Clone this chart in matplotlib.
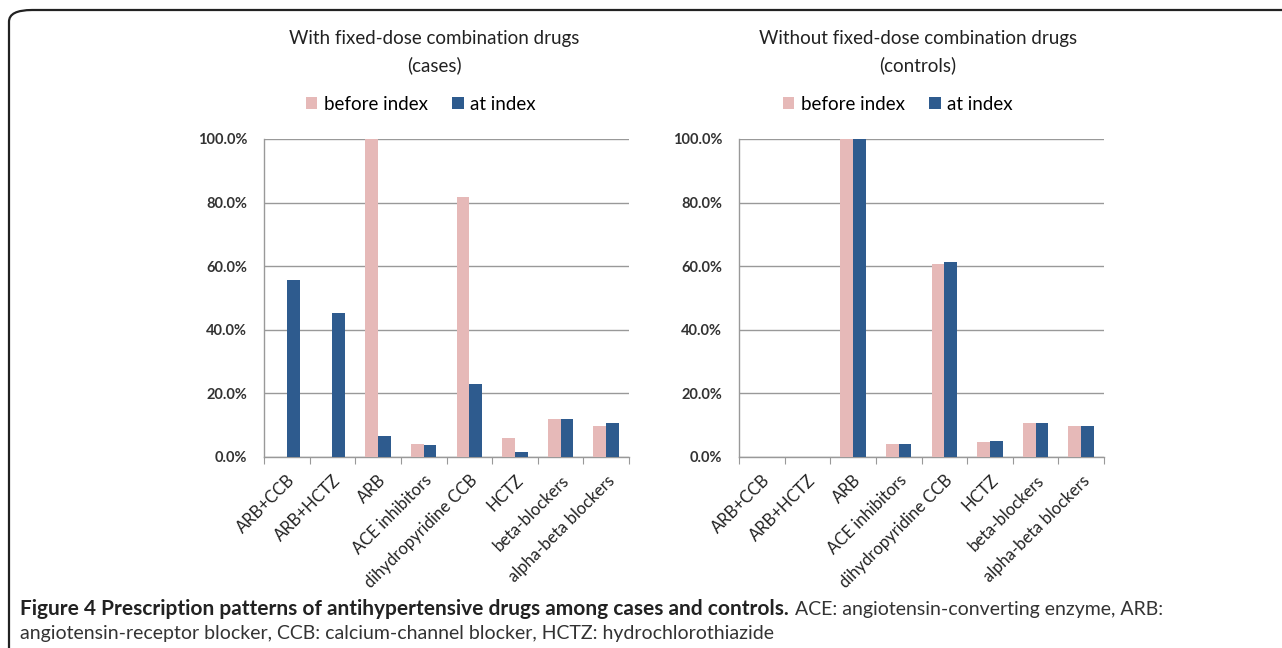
import numpy as np
import matplotlib
matplotlib.use('Agg')
import matplotlib.pyplot as plt
from matplotlib.patches import FancyBboxPatch

DRUGS = ['ARB+CCB', 'ARB+HCTZ', 'ARB', 'ACE inhibitors', 'dihydropyridine CCB',
         'HCTZ', 'beta-blockers', 'alpha-beta blockers']
CASES_BEFORE = [0.0, 0.0, 100.0, 4.0, 81.8, 6.0, 12.1, 9.8]
CASES_AT = [55.6, 45.3, 6.7, 3.7, 23.0, 1.7, 11.8, 10.8]
CTRL_BEFORE = [0.0, 0.0, 100.0, 4.2, 60.7, 4.7, 10.8, 9.8]
CTRL_AT = [0.0, 0.0, 100.0, 4.2, 61.2, 5.0, 10.8, 9.8]
SERIES = ['before index', 'at index']
TITLES = ['With fixed-dose combination drugs\n(cases)', 'Without fixed-dose combination drugs\n(controls)']
COL = {'before index': '#E6B9B8', 'at index': '#2E5B8E'}
FONT = ['Lato', 'DejaVu Sans']
plt.rcParams['font.family'] = FONT

W, H = 1282, 648
fig = plt.figure(figsize=(W / 100, H / 100), dpi=100)


def px(x0, y0, x1, y1):
    return [x0 / W, 1 - y1 / H, (x1 - x0) / W, (y1 - y0) / H]


def panel(ax, before, at, title, tx, lx):
    x = np.arange(len(DRUGS))
    bw = 0.28
    ax.bar(x - bw / 2, before, bw, color=COL['before index'], label='before index', zorder=3)
    ax.bar(x + bw / 2, at, bw, color=COL['at index'], label='at index', zorder=3)
    ax.set_xlim(-0.5, len(DRUGS) - 0.5)
    ax.set_ylim(0, 100)
    ax.set_yticks(np.arange(0, 101, 20))
    ax.set_yticklabels([f'{v:.1f}%' for v in np.arange(0, 101, 20)], fontsize=10.5, fontweight='bold', color='#333333')
    ax.yaxis.grid(True, color='#999999', lw=1.0, zorder=0)
    ax.set_axisbelow(True)
    for s in ('top', 'right'):
        ax.spines[s].set_visible(False)
    for s in ('left', 'bottom'):
        ax.spines[s].set_color('#999999')
        ax.spines[s].set_linewidth(1.0)
    ax.tick_params(axis='y', length=0, pad=12)
    ax.set_xticks(np.arange(-0.5, len(DRUGS), 1))
    ax.set_xticklabels([])
    ax.tick_params(axis='x', which='major', length=5, color='#999999', direction='out')
    ax.set_xticks(x, minor=True)
    ax.set_xticklabels(DRUGS, minor=True, rotation=45, ha='right', rotation_mode='anchor',
                       fontsize=12, color='#222222')
    ax.tick_params(axis='x', which='minor', length=0, pad=11)
    fig.text(tx / W, 1 - 52 / H, title, ha='center', va='center', fontsize=13.5,
             color='#222222', linespacing=1.6)
    ax.legend(loc='center', bbox_to_anchor=(lx / W, 1 - 104 / H), bbox_transform=fig.transFigure,
              ncol=2, frameon=False, fontsize=13.5, handlelength=0.6, handleheight=0.6,
              handletextpad=0.35, columnspacing=1.3)


ax1 = fig.add_axes(px(264, 139, 629, 457))
panel(ax1, CASES_BEFORE, CASES_AT, TITLES[0], 434, 421)
ax2 = fig.add_axes(px(739, 139, 1104, 457))
panel(ax2, CTRL_BEFORE, CTRL_AT, TITLES[1], 918, 898)

# outer frame
frame = FancyBboxPatch((9 / W, -0.05), 1.2, (H - 10) / H + 0.05,
                       boxstyle='round,pad=0,rounding_size=0.018', transform=fig.transFigure,
                       fill=False, edgecolor='#222222', lw=1.6, clip_on=False)
fig.add_artist(frame)

# caption
t1 = fig.text(20 / W, 1 - 609 / H, 'Figure 4 Prescription patterns of antihypertensive drugs among cases and controls.',
              fontsize=15, fontweight='bold', va='center', ha='left', color='#222222')
fig.canvas.draw()
bb = t1.get_window_extent()
fig.text((bb.x1 + 6) / W, 1 - 609 / H, 'ACE: angiotensin-converting enzyme, ARB:',
         fontsize=14, va='center', ha='left', color='#333333')
fig.text(20 / W, 1 - 633 / H, 'angiotensin-receptor blocker, CCB: calcium-channel blocker, HCTZ: hydrochlorothiazide',
         fontsize=14, va='center', ha='left', color='#333333')

fig.savefig('out.png', dpi=100)
